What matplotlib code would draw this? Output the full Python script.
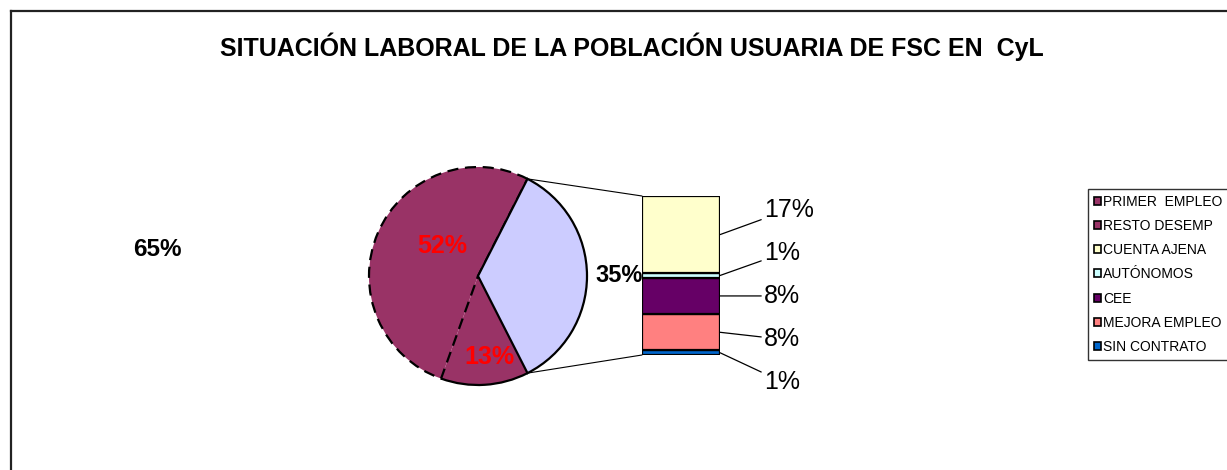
import matplotlib
matplotlib.use("Agg")
import matplotlib.pyplot as plt
from matplotlib.patches import Arc, Patch, ConnectionPatch
import numpy as np

plt.rcParams["font.family"] = ["Liberation Sans", "DejaVu Sans"]

# --- data ---
TITLE = "SITUACIÓN LABORAL DE LA POBLACIÓN USUARIA DE FSC EN  CyL"
pie_labels = ["EMPLEADOS", "PRIMER  EMPLEO", "RESTO DESEMP"]
pie_values = [35, 52, 13]
pie_colors = ["#ccccff", "#993366", "#993366"]
unemployed_total = 65

bar_labels = ["SIN CONTRATO", "MEJORA EMPLEO", "CEE", "AUTÓNOMOS", "CUENTA AJENA"]
bar_values = [1, 8, 8, 1, 17]
bar_colors = ["#0066cc", "#ff8080", "#660066", "#ccffff", "#ffffcc"]

legend_labels = ["PRIMER  EMPLEO", "RESTO DESEMP", "CUENTA AJENA", "AUTÓNOMOS",
                 "CEE", "MEJORA EMPLEO", "SIN CONTRATO"]
legend_colors = ["#993366", "#993366", "#ffffcc", "#ccffff", "#660066", "#ff8080", "#0066cc"]

W, H = 1227, 470
fig = plt.figure(figsize=(W / 100, H / 100), dpi=100)
fig.patch.set_facecolor("white")

# main axes in pixel units (y up)
ax = fig.add_axes([0, 0, 1, 1])
ax.set_xlim(0, W)
ax.set_ylim(0, H)
ax.axis("off")

# outer border (top + left visible)
ax.plot([11, W], [H - 11, H - 11], color="#222222", lw=1.6)
ax.plot([11, 11], [0, H - 11], color="#222222", lw=1.6)

ax.text(632, H - 47, TITLE, ha="center", va="center", fontsize=18,
        fontweight="bold")

# --- pie ---
cx, cy, r = 478, H - 276, 109
wedges, _ = ax.pie(pie_values, colors=pie_colors, startangle=-63,
                   counterclock=True, center=(cx, cy), radius=r,
                   wedgeprops=dict(linewidth=1.6, edgecolor="black"))
ax.set_xlim(0, W)
ax.set_ylim(0, H)
ax.set_aspect("equal")

w_emp, w_prim, w_resto = wedges
w_resto.set_edgecolor("none")
w_resto.set_zorder(1)
w_prim.set_linestyle((0, (5, 3)))
w_prim.set_zorder(2)
w_emp.set_zorder(3)
ax.add_patch(Arc((cx, cy), 2 * r, 2 * r, theta1=w_resto.theta1,
                 theta2=w_resto.theta2, color="black", lw=1.6, zorder=3))

def on_circle(theta):
    t = np.deg2rad(theta)
    return cx + r * np.cos(t), cy + r * np.sin(t)

ax.text(442, H - 246, f"{pie_values[1]}%", color="red", fontsize=18,
        fontweight="bold", ha="center", va="center", zorder=5)
ax.text(489, H - 357, f"{pie_values[2]}%", color="red", fontsize=18,
        fontweight="bold", ha="center", va="center", zorder=5)
ax.text(619, H - 276, f"{pie_values[0]}%", color="black", fontsize=17,
        fontweight="bold", ha="center", va="center", zorder=5)
ax.text(157, H - 249, f"{unemployed_total}%", color="black", fontsize=17.5,
        fontweight="bold", ha="center", va="center")

# --- stacked bar ---
bx0, by0, bx1, by1 = 642, 355, 720, 196
bax = fig.add_axes([bx0 / W, (H - by0) / H, (bx1 - bx0) / W, (by0 - by1) / H])
bottom = 0
mids = []
for v, c in zip(bar_values, bar_colors):
    bax.bar(0, v, bottom=bottom, width=1, color=c, edgecolor="black", lw=1.6)
    mids.append(bottom + v / 2)
    bottom += v
bax.set_xlim(-0.5, 0.5)
bax.set_ylim(0, sum(bar_values))
bax.axis("off")

offsets = [(-29), (-7), 0, 22, 25]  # label vertical offsets (pixels, + up)
for v, m, dy in zip(bar_values, mids, offsets):
    bax.annotate(f"{v}%", xy=(0.5, m), xycoords="data",
                 xytext=(44, dy), textcoords="offset pixels",
                 ha="left", va="center", fontsize=18,
                 arrowprops=dict(arrowstyle="-", color="black", lw=0.9,
                                 shrinkA=0, shrinkB=0),
                 annotation_clip=False)

# connectors pie -> bar
for theta, yb in [(w_emp.theta2, sum(bar_values)), (w_emp.theta1, 0)]:
    con = ConnectionPatch(xyA=on_circle(theta), coordsA=ax.transData,
                          xyB=(-0.5, yb), coordsB=bax.transData,
                          color="black", lw=0.8)
    fig.add_artist(con)

# --- legend ---
handles = [Patch(facecolor=c, edgecolor="black", lw=1.2) for c in legend_colors]
leg = fig.legend(handles, legend_labels, loc="upper left",
                 bbox_to_anchor=(1088 / W, (H - 189) / H),
                 fontsize=10, frameon=True, fancybox=False,
                 handlelength=0.5, handleheight=0.5, handletextpad=0.2,
                 labelspacing=0.74, borderpad=0.4, borderaxespad=0)
leg.get_frame().set_edgecolor("black")
leg.get_frame().set_linewidth(1.0)

fig.savefig("out.png", dpi=100, facecolor="white")
